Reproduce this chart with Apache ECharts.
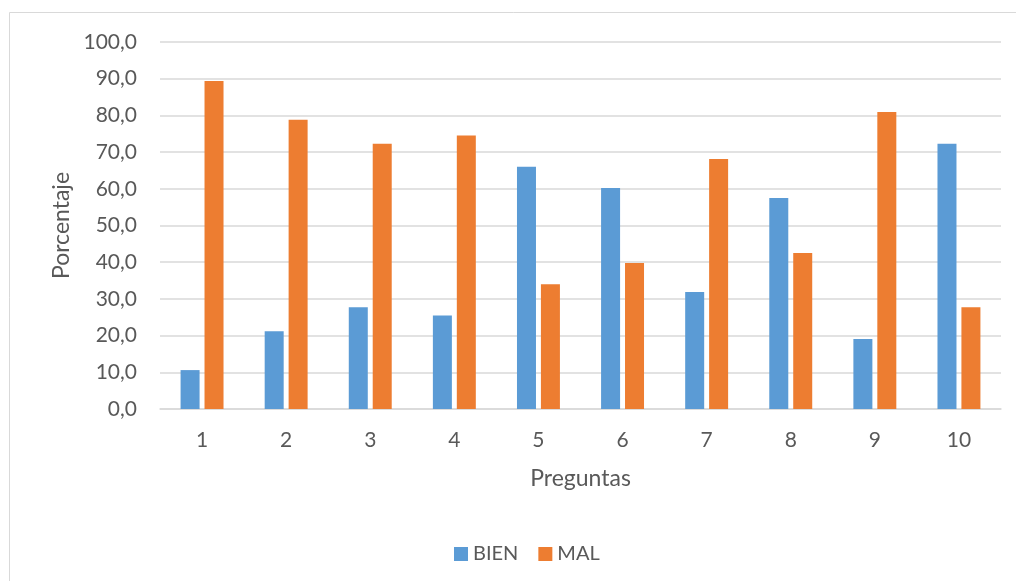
<!DOCTYPE html>
<html>
<head>
<meta charset="utf-8">
<style>
  html, body { margin: 0; padding: 0; background: #fff; }
  #main { width: 1016px; height: 581px; }
</style>
<script src="https://cdn.jsdelivr.net/npm/echarts@6/dist/echarts.min.js"></script>
</head>
<body>
<div id="main"></div>
<script>
// datos del grafico
var preguntas = ['1', '2', '3', '4', '5', '6', '7', '8', '9', '10'];
var bien = [10.6, 21.2, 27.7, 25.5, 66.0, 60.2, 31.9, 57.5, 19.1, 72.3];
var mal = [89.4, 78.8, 72.3, 74.5, 34.0, 39.8, 68.1, 42.5, 80.9, 27.7];

var chart = echarts.init(document.getElementById('main'));
var fuente = 'Lato';
var gris = '#595959';

var option = {
    backgroundColor: '#fff',
    animation: false,
    graphic: [{
        type: 'rect',
        shape: { x: 9.5, y: 12.5, width: 1020, height: 600 },
        style: { fill: 'none', stroke: '#d9d9d9', lineWidth: 1 }
    }],
    grid: { left: 160, right: 15, top: 42, bottom: 172 },
    legend: {
        left: 449,
        top: 539,
        itemWidth: 14,
        itemHeight: 14,
        itemGap: 20,
        icon: 'rect',
        textStyle: { color: gris, fontSize: 20, fontFamily: fuente },
        data: ['BIEN', 'MAL']
    },
    xAxis: {
        type: 'category',
        data: preguntas,
        name: 'Preguntas',
        nameLocation: 'middle',
        nameGap: 58,
        nameTextStyle: { color: gris, fontSize: 23, fontFamily: fuente },
        axisLine: { lineStyle: { color: '#d9d9d9', width: 1.5 } },
        axisTick: { show: false },
        axisLabel: { color: gris, fontSize: 21, fontFamily: fuente, margin: 21 }
    },
    yAxis: {
        type: 'value',
        min: 0,
        max: 100,
        interval: 10,
        name: 'Porcentaje',
        nameLocation: 'middle',
        nameGap: 86,
        nameTextStyle: { color: gris, fontSize: 23, fontFamily: fuente },
        axisLine: { show: false },
        axisTick: { show: false },
        splitLine: { lineStyle: { color: '#d9d9d9', width: 1.5 } },
        axisLabel: {
            color: gris, fontSize: 21, fontFamily: fuente, margin: 23,
            formatter: function (v) { return v.toFixed(1).replace('.', ','); }
        }
    },
    series: [
        {
            name: 'BIEN',
            type: 'bar',
            data: bien,
            barWidth: 19,
            barGap: '26%',
            itemStyle: { color: '#5b9bd5' }
        },
        {
            name: 'MAL',
            type: 'bar',
            data: mal,
            barWidth: 19,
            barGap: '26%',
            itemStyle: { color: '#ed7d31' }
        }
    ]
};
chart.setOption(option);
</script>
</body>
</html>
